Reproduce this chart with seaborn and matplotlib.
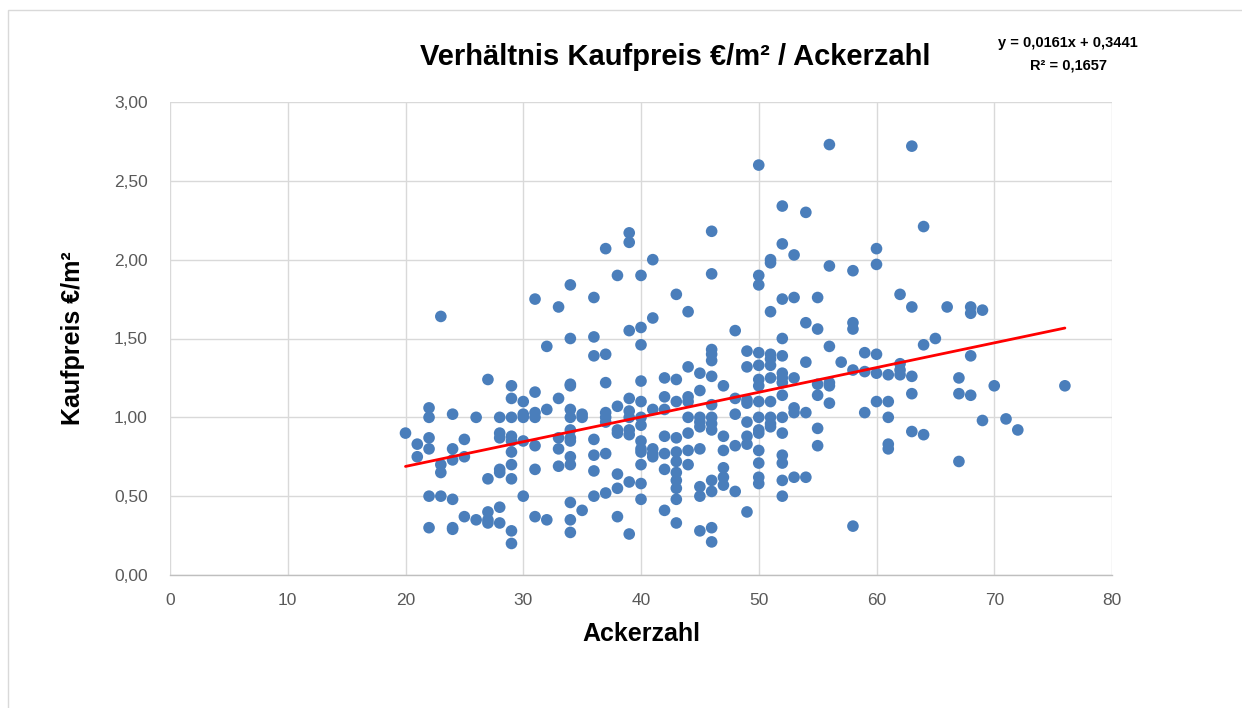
import matplotlib
matplotlib.use("Agg")
import matplotlib.pyplot as plt
import seaborn as sns
import numpy as np
import pandas as pd
from matplotlib.ticker import FuncFormatter, MultipleLocator
from matplotlib.patches import Rectangle

# ---- data (Ackerzahl -> list of Kaufpreis €/m²) ----
x20 = [0.90]
x21 = [0.83, 0.75]
x22 = [1.06, 1.00, 0.87, 0.80, 0.50, 0.30]
x23 = [1.64, 0.70, 0.65, 0.50]
x24 = [1.02, 0.80, 0.73, 0.48, 0.30, 0.29]
x25 = [0.86, 0.75, 0.37]
x26 = [1.00, 0.35]
x27 = [1.24, 0.61, 0.40, 0.35, 0.33]
x28 = [1.00, 0.90, 0.87, 0.67, 0.65, 0.43, 0.33]
x29 = [1.20, 1.12, 1.00, 0.88, 0.85, 0.78, 0.70, 0.61, 0.28, 0.20]
x30 = [1.10, 1.02, 1.00, 0.85, 0.50]
x31 = [1.75, 1.16, 1.03, 1.00, 0.82, 0.67, 0.37]
x32 = [1.45, 1.05, 0.35]
x33 = [1.70, 1.12, 0.87, 0.80, 0.69]
x34 = [1.84, 1.50, 1.21, 1.20, 1.05, 1.00, 0.92, 0.87, 0.85, 0.75, 0.70, 0.46, 0.35, 0.27]
x35 = [1.02, 1.00, 0.41]
x36 = [1.76, 1.51, 1.39, 0.86, 0.76, 0.66, 0.50]
x37 = [2.07, 1.40, 1.22, 1.03, 1.00, 0.97, 0.77, 0.52]
x38 = [1.90, 1.07, 0.92, 0.90, 0.64, 0.55, 0.37]
x39 = [2.17, 2.11, 1.55, 1.12, 1.04, 1.00, 0.92, 0.89, 0.59, 0.26]
x40 = [1.90, 1.57, 1.46, 1.23, 1.10, 1.00, 0.95, 0.85, 0.80, 0.78, 0.70, 0.58, 0.48]
x41 = [2.00, 1.63, 1.05, 0.80, 0.77, 0.75]
x42 = [1.25, 1.13, 1.05, 0.88, 0.77, 0.67, 0.41]
x43 = [1.78, 1.24, 1.10, 0.87, 0.78, 0.72, 0.65, 0.60, 0.55, 0.48, 0.33]
x44 = [1.67, 1.32, 1.13, 1.10, 1.00, 0.90, 0.79, 0.70]
x45 = [1.28, 1.17, 1.00, 0.97, 0.94, 0.80, 0.56, 0.50, 0.28]
x46 = [2.18, 1.91, 1.43, 1.40, 1.36, 1.26, 1.08, 1.00, 0.96, 0.92, 0.60, 0.53, 0.30, 0.21]
x47 = [1.20, 0.88, 0.79, 0.68, 0.62, 0.57]
x48 = [1.55, 1.12, 1.02, 0.82, 0.53]
x49 = [1.42, 1.32, 1.11, 1.09, 0.97, 0.88, 0.83, 0.40]
x50 = [2.60, 1.90, 1.84, 1.41, 1.33, 1.24, 1.20, 1.10, 1.00, 0.92, 0.90, 0.79, 0.71, 0.62, 0.58]
x51 = [2.00, 1.98, 1.67, 1.40, 1.37, 1.33, 1.25, 1.10, 1.00, 0.96, 0.94]
x52 = [2.34, 2.10, 1.75, 1.50, 1.39, 1.28, 1.25, 1.22, 1.14, 1.00, 0.90, 0.76, 0.71, 0.60, 0.50]
x53 = [2.03, 1.76, 1.25, 1.06, 1.03, 0.62]
x54 = [2.30, 1.60, 1.35, 1.03, 0.62]
x55 = [1.76, 1.56, 1.21, 1.14, 0.93, 0.82]
x56 = [2.73, 1.96, 1.45, 1.22, 1.20, 1.09]
x57 = [1.35]
x58 = [1.93, 1.60, 1.56, 1.30, 0.31]
x59 = [1.41, 1.29, 1.03]
x60 = [2.07, 1.97, 1.40, 1.28, 1.10]
x61 = [1.27, 1.10, 1.00, 0.83, 0.80]
x62 = [1.78, 1.34, 1.30, 1.27]
x63 = [2.72, 1.70, 1.26, 1.15, 0.91]
x64 = [2.21, 1.46, 0.89]
x65 = [1.50]
x66 = [1.70]
x67 = [1.25, 1.15, 0.72]
x68 = [1.70, 1.66, 1.39, 1.14]
x69 = [1.68, 0.98]
x70 = [1.20]
x71 = [0.99]
x72 = [0.92]
x76 = [1.20]

columns = {20: x20, 21: x21, 22: x22, 23: x23, 24: x24, 25: x25, 26: x26, 27: x27,
           28: x28, 29: x29, 30: x30, 31: x31, 32: x32, 33: x33, 34: x34, 35: x35,
           36: x36, 37: x37, 38: x38, 39: x39, 40: x40, 41: x41, 42: x42, 43: x43,
           44: x44, 45: x45, 46: x46, 47: x47, 48: x48, 49: x49, 50: x50, 51: x51,
           52: x52, 53: x53, 54: x54, 55: x55, 56: x56, 57: x57, 58: x58, 59: x59,
           60: x60, 61: x61, 62: x62, 63: x63, 64: x64, 65: x65, 66: x66, 67: x67,
           68: x68, 69: x69, 70: x70, 71: x71, 72: x72, 76: x76}

rows = [(k, v) for k, vals in columns.items() for v in vals]
df = pd.DataFrame(rows, columns=["Ackerzahl", "Kaufpreis"])

x_ticks = [0, 10, 20, 30, 40, 50, 60, 70, 80]
y_ticks = [0.0, 0.5, 1.0, 1.5, 2.0, 2.5, 3.0]
title = "Verhältnis Kaufpreis €/m² / Ackerzahl"
eq_text = "y = 0,0161x + 0,3441"
r2_text = "R² = 0,1657"

sns.set_theme(style="white")
plt.rcParams['font.family'] = ['Liberation Sans', 'DejaVu Sans']

fig = plt.figure(figsize=(12.42, 7.08), dpi=100)
fig.patch.set_facecolor("white")
ax = fig.add_axes([170/1242, 1-575/708, (1112-170)/1242, (575-102)/708])

sns.scatterplot(data=df, x="Ackerzahl", y="Kaufpreis", ax=ax, s=70,
                color="#4A7EBB", edgecolor="none", zorder=3)
sns.regplot(data=df, x="Ackerzahl", y="Kaufpreis", ax=ax, scatter=False, ci=None,
            truncate=True, line_kws=dict(color="#FF0000", lw=2.0, zorder=4))

ax.set_xlim(0, 80)
ax.set_ylim(0, 3.0)
ax.set_xticks(x_ticks)
ax.set_yticks(y_ticks)
ax.yaxis.set_major_formatter(FuncFormatter(lambda v, p: f"{v:.2f}".replace(".", ",")))
ax.grid(True, color="#D9D9D9", lw=1.0, zorder=0)
ax.set_axisbelow(True)
for s in ["top", "right", "left"]:
    ax.spines[s].set_visible(False)
ax.spines["bottom"].set_color("#BFBFBF")
ax.spines["bottom"].set_linewidth(1.0)
ax.tick_params(axis="x", colors="#595959", labelsize=12.5, length=0, pad=13)
ax.tick_params(axis="y", colors="#595959", labelsize=12.5, length=0, pad=16)

ax.set_xlabel("Ackerzahl", fontsize=18, fontweight="bold", color="black", labelpad=10)
ax.set_ylabel("Kaufpreis €/m²", fontsize=18, fontweight="bold", color="black", labelpad=21)

fig.text(675/1242, 1-57/708, title, ha="center", va="center", fontsize=21,
         fontweight="bold", color="black")
fig.text(1068/1242, 1-43/708, eq_text, ha="center", va="center", fontsize=10.5,
         fontweight="bold", color="black")
fig.text(1068/1242, 1-65/708, r2_text, ha="center", va="center", fontsize=10.5,
         fontweight="bold", color="black")

fig.patches.append(Rectangle((8/1242, -0.05), 1.2, 1 - 10/708 + 0.05, transform=fig.transFigure,
                             fill=False, edgecolor="#D9D9D9", lw=1.0))

fig.savefig("out.png", dpi=100, facecolor="white")
